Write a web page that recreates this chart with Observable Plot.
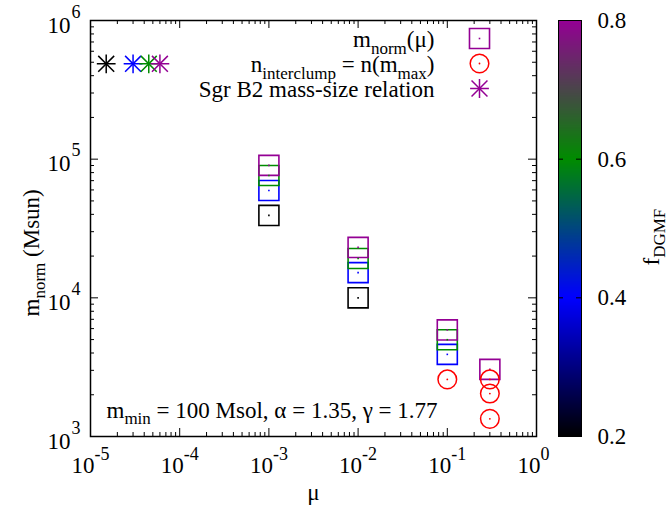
<!DOCTYPE html>
<html><head><meta charset="utf-8">
<script src="https://cdn.jsdelivr.net/npm/d3@7"></script>
<script src="https://cdn.jsdelivr.net/npm/@observablehq/plot@0.6"></script>
<style>
body{margin:0;background:#fff;}
#wrap{position:relative;width:668px;height:516px;overflow:hidden;}
#wrap svg{position:absolute;top:0;}
#wrap svg text{font-family:'Liberation Serif','Times New Roman',serif;white-space:pre;}
</style></head><body><div id="wrap"></div>
<script>
// ---------- data ----------
const muValues = [1e-3, 1e-2, 1e-1, 0.3];
const fValues = [0.2, 0.4, 0.6, 0.8];
const mnormF02 = [39300, 10000, null, null];
const mnormF04 = [59400, 15200, 3910, null];
const mnormF06 = [76200, 19200, 4990, null];
const mnormF08 = [90200, 23100, 5870, 3050];
const interclumpMu = [0.1, 0.3, 0.3, 0.3];
const interclumpN = [2580, 2580, 2040, 1340];
const sgrMu = [1.5e-5, 3e-5, 4.5e-5, 6e-5];
const sgrM = [4.87e5, 4.87e5, 4.87e5, 4.87e5];
const xDecades = [-5, -4, -3, -2, -1, 0];
const yDecades = [3, 4, 5, 6];
const cbTicks = [0.2, 0.4, 0.6, 0.8];
const paletteColors = ["#000000", "#0000ff", "#008c00", "#940094"];
const legendLabels = ["m_{norm}(μ)", "n_{interclump} = n(m_{max})", "Sgr B2 mass-size relation"];
const annotation = "m_{min} = 100 Msol, α = 1.35, γ = 1.77";
const xLabel = "μ";
const yLabel = "m_{norm} (Msun)";
const cbLabel = "f_{DGMF}";

// ---------- derived tables ----------
const mnormSeries = [mnormF02, mnormF04, mnormF06, mnormF08];
const squares = [];
fValues.forEach((f, i) => muValues.forEach((mu, j) => {
  const m = mnormSeries[i][j];
  if (m != null) squares.push({mu, m, f});
}));
const interclump = interclumpMu.map((mu, i) => ({mu, n: interclumpN[i]}));
const sgr = sgrMu.map((mu, i) => ({mu, m: sgrM[i], f: fValues[i]}));
const xMajor = xDecades.map(e => 10 ** e);
const xMinor = xDecades.slice(0, -1).flatMap(e => [2,3,4,5,6,7,8,9].map(k => k * 10 ** e));
const yMajor = yDecades.map(e => 10 ** e);
const yMinor = yDecades.slice(0, -1).flatMap(e => [2,3,4,5,6,7,8,9].map(k => k * 10 ** e));

// ---------- layout ----------
const W = 668, H = 516, ML = 90, MR = 132, MT = 20, MB = 80;
const FW = W - ML - MR, FH = H - MT - MB;
const FONT = "'Liberation Serif','Times New Roman',serif";
const FS = 23, FSS = 18, FSUB = 17;
const colorScale = {type: "linear", domain: fValues, range: paletteColors, interpolate: "rgb"};
const PURPLE = paletteColors[3];
const PLUS_R = 6.1, TIMES_R = 7.3;

const main = Plot.plot({
  width: W, height: H, marginLeft: ML, marginRight: MR, marginTop: MT, marginBottom: MB,
  style: {fontFamily: FONT, fontSize: FS + "px", background: "transparent", color: "black"},
  x: {type: "log", domain: [1e-5, 1], axis: null},
  y: {type: "log", domain: [1e3, 1e6], axis: null},
  color: colorScale,
  marks: [
    Plot.tickX(xMajor, {x: d => d, insetTop: FH - 8, stroke: "black"}),
    Plot.tickX(xMajor, {x: d => d, insetBottom: FH - 8, stroke: "black"}),
    Plot.tickX(xMinor, {x: d => d, insetTop: FH - 4, stroke: "black"}),
    Plot.tickX(xMinor, {x: d => d, insetBottom: FH - 4, stroke: "black"}),
    Plot.tickY(yMajor, {y: d => d, insetRight: FW - 8, stroke: "black"}),
    Plot.tickY(yMajor, {y: d => d, insetLeft: FW - 8, stroke: "black"}),
    Plot.tickY(yMinor, {y: d => d, insetRight: FW - 4, stroke: "black"}),
    Plot.tickY(yMinor, {y: d => d, insetLeft: FW - 4, stroke: "black"}),
    Plot.frame({stroke: "black", strokeWidth: 1.5}),
    Plot.text(xDecades, {x: e => 10 ** e, frameAnchor: "bottom", text: () => "10", textAnchor: "end", lineAnchor: "bottom", dx: 4, dy: 36, fontSize: FS}),
    Plot.text(xDecades, {x: e => 10 ** e, frameAnchor: "bottom", text: e => String(e), textAnchor: "start", lineAnchor: "bottom", dx: 4, dy: 23, fontSize: FSS}),
    Plot.text(yDecades, {y: e => 10 ** e, frameAnchor: "left", text: () => "10", textAnchor: "end", lineAnchor: "bottom", dx: -20, dy: 12, fontSize: FS}),
    Plot.text(yDecades, {y: e => 10 ** e, frameAnchor: "left", text: e => String(e), textAnchor: "start", lineAnchor: "bottom", dx: -19, dy: -3, fontSize: FSS}),
    Plot.text([xLabel], {frameAnchor: "bottom", text: d => d, lineAnchor: "bottom", dy: 63, fontSize: FS}),
    Plot.text([yLabel], {frameAnchor: "left", text: d => d, rotate: -90, textAnchor: "start", lineAnchor: "bottom", dx: -52, dy: 88, fontSize: FS}),
    Plot.text([annotation], {frameAnchor: "bottom-left", text: d => d, textAnchor: "start", lineAnchor: "bottom", dx: 16, dy: -19, fontSize: FS}),
    Plot.dot(sgr, {x: "mu", y: "m", stroke: "f", symbol: "plus", r: PLUS_R, strokeWidth: 1.5}),
    Plot.dot(sgr, {x: "mu", y: "m", stroke: "f", symbol: "times", r: TIMES_R, strokeWidth: 1.5}),
    Plot.dot(squares, {x: "mu", y: "m", stroke: "f", symbol: "square", r: 11.3, strokeWidth: 1.6, fill: "none"}),
    Plot.dot(squares, {x: "mu", y: "m", fill: "f", symbol: "square", r: 0.9}),
    Plot.dot(interclump, {x: "mu", y: "n", stroke: "red", r: 9.3, strokeWidth: 1.5}),
    Plot.dot(interclump, {x: "mu", y: "n", fill: "red", r: 0.9}),
    Plot.text([legendLabels[0]], {frameAnchor: "top-right", text: d => d, textAnchor: "end", lineAnchor: "bottom", dx: -102, dy: 26.5, fontSize: FS}),
    Plot.text([legendLabels[1]], {frameAnchor: "top-right", text: d => d, textAnchor: "end", lineAnchor: "bottom", dx: -102, dy: 51.5, fontSize: FS}),
    Plot.text([legendLabels[2]], {frameAnchor: "top-right", text: d => d, textAnchor: "end", lineAnchor: "bottom", dx: -102, dy: 76.5, fontSize: FS}),
    Plot.dot([0], {frameAnchor: "top-right", dx: -57, dy: 18, symbol: "square", r: 11.3, stroke: PURPLE, strokeWidth: 1.6}),
    Plot.dot([0], {frameAnchor: "top-right", dx: -57, dy: 18, symbol: "square", r: 0.9, fill: PURPLE}),
    Plot.dot([0], {frameAnchor: "top-right", dx: -57, dy: 43, r: 9.3, stroke: "red", strokeWidth: 1.5}),
    Plot.dot([0], {frameAnchor: "top-right", dx: -57, dy: 43, r: 0.9, fill: "red"}),
    Plot.dot([0], {frameAnchor: "top-right", dx: -57, dy: 68, symbol: "plus", r: PLUS_R, stroke: PURPLE, strokeWidth: 1.5}),
    Plot.dot([0], {frameAnchor: "top-right", dx: -57, dy: 68, symbol: "times", r: TIMES_R, stroke: PURPLE, strokeWidth: 1.5})
  ]
});
main.style.left = "0px";

const CBL = 18, CBW = 23;
const cb = Plot.plot({
  width: 128, height: H, marginLeft: CBL, marginRight: 128 - CBL - CBW, marginTop: MT, marginBottom: MB,
  style: {fontFamily: FONT, fontSize: FS + "px", background: "transparent", color: "black"},
  x: {domain: [0, 1], axis: null},
  y: {domain: [0.2, 0.8], axis: null},
  color: colorScale,
  marks: [
    Plot.raster({fill: (x, y) => y, x1: 0, x2: 1, y1: 0.2, y2: 0.8, width: 4, height: 300, imageRendering: "auto"}),
    Plot.tickY(cbTicks.slice(1, -1), {y: d => d, insetRight: CBW - 5, stroke: "black"}),
    Plot.tickY(cbTicks.slice(1, -1), {y: d => d, insetLeft: CBW - 5, stroke: "black"}),
    Plot.frame({stroke: "black", strokeWidth: 1}),
    Plot.text(cbTicks, {y: d => d, frameAnchor: "right", text: d => d.toFixed(1), textAnchor: "start", dx: 16, fontSize: FS}),
    Plot.text([cbLabel], {frameAnchor: "right", text: d => d, rotate: -90, textAnchor: "start", lineAnchor: "bottom", dx: 77, dy: 37, fontSize: FS})
  ]
});
cb.style.left = "540px";

const wrap = document.getElementById("wrap");
wrap.appendChild(main);
wrap.appendChild(cb);

// enhanced text: turn _{..} and ^{..} into sub/superscript tspans
function richify(svg) {
  d3.select(svg).selectAll("text").each(function () {
    const s = this.textContent;
    if (!/[_^]\{/.test(s)) return;
    const el = d3.select(this);
    el.text(null);
    const re = /([_^])\{([^}]*)\}|([^_^]+)/g;
    let m, cur = 0;
    while ((m = re.exec(s))) {
      if (m[3] !== undefined) {
        el.append("tspan").attr("dy", -cur).text(m[3]);
        cur = 0;
      } else {
        const target = m[1] === "_" ? 0.3 * FS : -0.45 * FS;
        el.append("tspan").attr("dy", target - cur).attr("font-size", FSUB).text(m[2]);
        cur = target;
      }
    }
  });
  d3.select(svg).selectAll("text").style("font-family", FONT).style("white-space", "pre");
}
richify(main);
richify(cb);
</script></body></html>
